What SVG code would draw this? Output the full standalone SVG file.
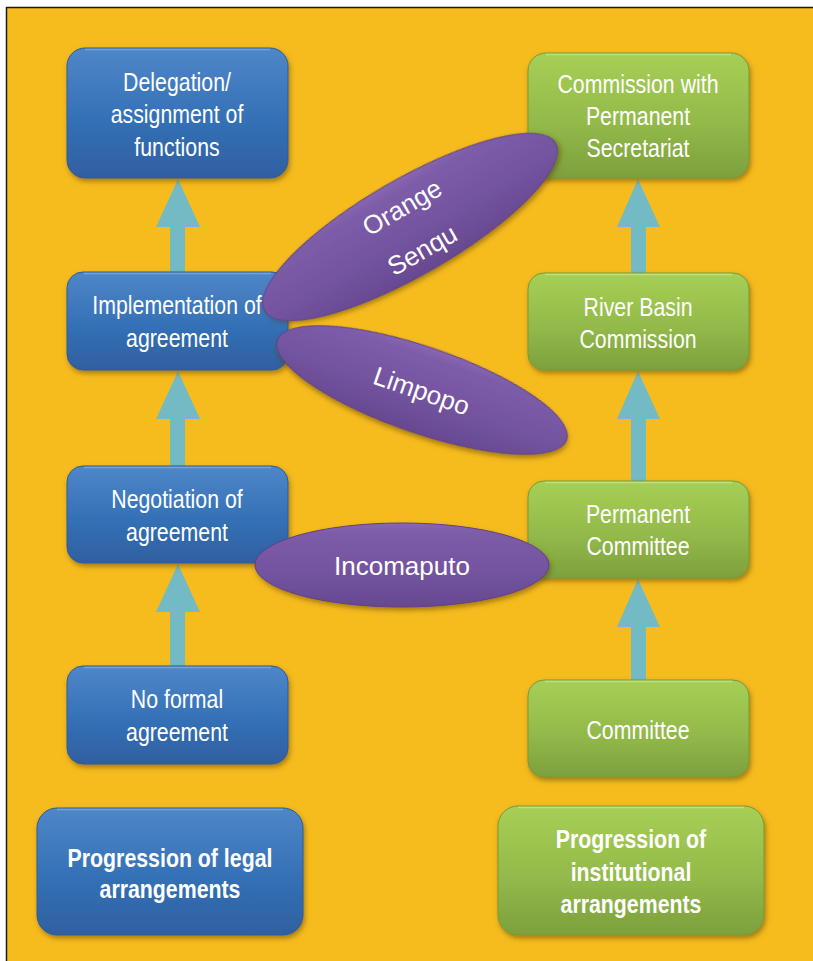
<svg xmlns="http://www.w3.org/2000/svg" width="813" height="961" viewBox="0 0 813 961">
  <defs>
    <linearGradient id="gBlue" x1="0" y1="0" x2="0" y2="1">
      <stop offset="0" stop-color="#4F87C8"/>
      <stop offset="0.55" stop-color="#3470B6"/>
      <stop offset="1" stop-color="#2F60A0"/>
    </linearGradient>
    <linearGradient id="gGreen" x1="0" y1="0" x2="0" y2="1">
      <stop offset="0" stop-color="#A7CF55"/>
      <stop offset="0.55" stop-color="#93BA4A"/>
      <stop offset="1" stop-color="#7DA03D"/>
    </linearGradient>
    <linearGradient id="gPurple" x1="0" y1="0" x2="0" y2="1">
      <stop offset="0" stop-color="#8967B2"/>
      <stop offset="0.12" stop-color="#7D5CA8"/>
      <stop offset="0.55" stop-color="#7454A0"/>
      <stop offset="1" stop-color="#674990"/>
    </linearGradient>
    <filter id="shadow" x="-10%" y="-10%" width="120%" height="130%">
      <feDropShadow dx="1.5" dy="3" stdDeviation="2.5" flood-color="#5a3a00" flood-opacity="0.5"/>
    </filter>
    <style>
      .blue { fill: url(#gBlue); stroke: #2C5C98; stroke-width: 1; filter: url(#shadow); }
      .green { fill: url(#gGreen); stroke: #78993A; stroke-width: 1; filter: url(#shadow); }
      .oval { fill: url(#gPurple); stroke: #5E4285; stroke-width: 1; filter: url(#shadow); }
      .shine-b { fill: none; stroke: #7FAAE0; stroke-width: 1.5; opacity: 0.8; }
      .shine-g { fill: none; stroke: #C4E58A; stroke-width: 1.5; opacity: 0.8; }
      .lbl { font-family: "Liberation Sans", Arial, sans-serif; font-size: 26px; fill: #FFFFFF; text-anchor: middle; }
      .head { font-family: "Liberation Sans", Arial, sans-serif; font-size: 26px; font-weight: bold; fill: #FFFFFF; text-anchor: middle; }
      .olbl { font-family: "Liberation Sans", Arial, sans-serif; font-size: 26px; fill: #FFFFFF; text-anchor: middle; }
      .arrow { fill: #74BAC4; }
    </style>
  </defs>

  <!-- page and frame -->
  <rect x="0" y="0" width="813" height="961" fill="#FFFFFF"/>
  <rect x="6" y="7" width="807" height="954" fill="#F6BC1E"/>
  <line x1="6.5" y1="7" x2="6.5" y2="961" stroke="#1A1A1A" stroke-width="1.5"/>
  <line x1="6" y1="7.5" x2="813" y2="7.5" stroke="#1A1A1A" stroke-width="1.5"/>

  <!-- upward block arrows -->
  <g id="connectors">
    <path class="arrow" d="M178,179 L200,227 L185,227 L185,273 L170,273 L170,227 L156,227 Z"/>
    <path class="arrow" d="M178,371 L200,419 L185,419 L185,467 L170,467 L170,419 L156,419 Z"/>
    <path class="arrow" d="M178,564 L200,612 L185,612 L185,667 L170,667 L170,612 L156,612 Z"/>
    <path class="arrow" d="M638,179 L660,227 L646,227 L646,274 L631,274 L631,227 L617,227 Z"/>
    <path class="arrow" d="M638,371 L660,419 L646,419 L646,482 L631,482 L631,419 L617,419 Z"/>
    <path class="arrow" d="M638,579 L660,627 L646,627 L646,681 L631,681 L631,627 L617,627 Z"/>
  </g>

  <!-- legal arrangements column (labels condensed horizontally) -->
  <g id="delegation">
    <rect class="blue" x="67" y="48" width="221" height="130" rx="18"/>
    <path class="shine-b" d="M85,49.5 H270"/>
    <text class="lbl" transform="translate(177 91) scale(0.82 1)">Delegation/</text>
    <text class="lbl" transform="translate(177 123) scale(0.82 1)">assignment of</text>
    <text class="lbl" transform="translate(177 156) scale(0.82 1)">functions</text>
  </g>
  <g id="implementation">
    <rect class="blue" x="67" y="272" width="221" height="98" rx="16"/>
    <path class="shine-b" d="M84,273.5 H271"/>
    <text class="lbl" transform="translate(177 314) scale(0.82 1)">Implementation of</text>
    <text class="lbl" transform="translate(177 347) scale(0.82 1)">agreement</text>
  </g>
  <g id="negotiation">
    <rect class="blue" x="67" y="466" width="221" height="97" rx="16"/>
    <path class="shine-b" d="M84,467.5 H271"/>
    <text class="lbl" transform="translate(177 508) scale(0.82 1)">Negotiation of</text>
    <text class="lbl" transform="translate(177 541) scale(0.82 1)">agreement</text>
  </g>
  <g id="no-formal">
    <rect class="blue" x="67" y="666" width="221" height="98" rx="16"/>
    <path class="shine-b" d="M84,667.5 H271"/>
    <text class="lbl" transform="translate(177 708) scale(0.82 1)">No formal</text>
    <text class="lbl" transform="translate(177 741) scale(0.82 1)">agreement</text>
  </g>
  <g id="legal-title">
    <rect class="blue" x="37" y="808" width="266" height="127" rx="20"/>
    <path class="shine-b" d="M57,809.5 H283"/>
    <text class="head" transform="translate(170 867) scale(0.82 1)">Progression of legal</text>
    <text class="head" transform="translate(170 898) scale(0.82 1)">arrangements</text>
  </g>

  <!-- institutional arrangements column -->
  <g id="commission-secretariat">
    <rect class="green" x="528" y="53" width="221" height="125" rx="18"/>
    <path class="shine-g" d="M546,54.5 H731"/>
    <text class="lbl" transform="translate(638 93) scale(0.82 1)">Commission with</text>
    <text class="lbl" transform="translate(638 125) scale(0.82 1)">Permanent</text>
    <text class="lbl" transform="translate(638 157) scale(0.82 1)">Secretariat</text>
  </g>
  <g id="river-basin">
    <rect class="green" x="528" y="273" width="221" height="97" rx="16"/>
    <path class="shine-g" d="M545,274.5 H732"/>
    <text class="lbl" transform="translate(638 316) scale(0.82 1)">River Basin</text>
    <text class="lbl" transform="translate(638 348) scale(0.82 1)">Commission</text>
  </g>
  <g id="permanent-committee">
    <rect class="green" x="528" y="481" width="221" height="97" rx="16"/>
    <path class="shine-g" d="M545,482.5 H732"/>
    <text class="lbl" transform="translate(638 523) scale(0.82 1)">Permanent</text>
    <text class="lbl" transform="translate(638 555) scale(0.82 1)">Committee</text>
  </g>
  <g id="committee">
    <rect class="green" x="528" y="680" width="221" height="97" rx="16"/>
    <path class="shine-g" d="M545,681.5 H732"/>
    <text class="lbl" transform="translate(638 739) scale(0.82 1)">Committee</text>
  </g>
  <g id="institutional-title">
    <rect class="green" x="498" y="806" width="266" height="129" rx="20"/>
    <path class="shine-g" d="M518,807.5 H744"/>
    <text class="head" transform="translate(631 848) scale(0.82 1)">Progression of</text>
    <text class="head" transform="translate(631 881) scale(0.82 1)">institutional</text>
    <text class="head" transform="translate(631 913) scale(0.82 1)">arrangements</text>
  </g>

  <!-- river basins placed across the two progressions -->
  <g id="orange-senqu" transform="rotate(-30 410 227)">
    <ellipse class="oval" cx="410" cy="227" rx="168" ry="48"/>
    <text class="olbl" x="413" y="215">Orange</text>
    <text class="olbl" x="409" y="262">Senqu</text>
  </g>
  <g id="limpopo" transform="rotate(19 422 390)">
    <ellipse class="oval" cx="422" cy="390" rx="153" ry="43"/>
    <text class="olbl" x="422" y="400">Limpopo</text>
  </g>
  <g id="incomaputo">
    <ellipse class="oval" cx="402" cy="565" rx="147" ry="42"/>
    <text class="olbl" x="402" y="575">Incomaputo</text>
  </g>
</svg>
